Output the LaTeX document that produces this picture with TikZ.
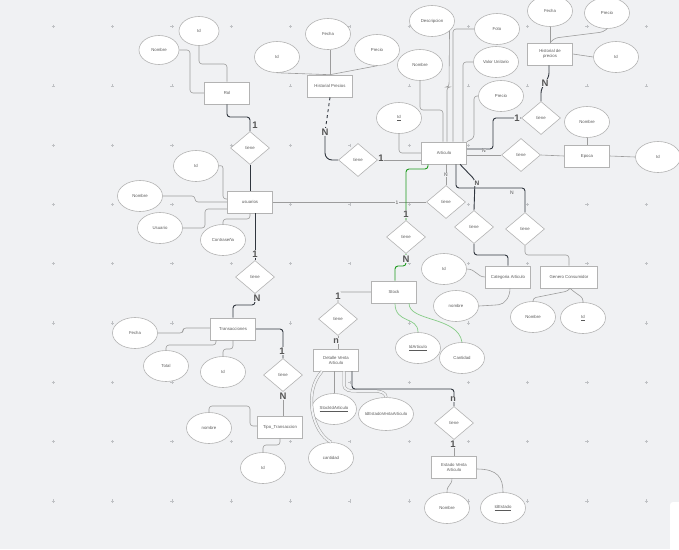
\documentclass[tikz,border=0pt]{standalone}
\usepackage{fontspec}
\setmainfont{Liberation Sans}
\usetikzlibrary{shapes.geometric}
\definecolor{bgc}{HTML}{F0F1F3}
\definecolor{edgec}{HTML}{B3B3B3}
\definecolor{linec}{HTML}{9C9C9C}
\definecolor{darkc}{HTML}{30363E}
\definecolor{txtc}{HTML}{5A5A5A}
\definecolor{cardc}{HTML}{555555}
\definecolor{gridc}{HTML}{BFC1C4}
\definecolor{grnd}{HTML}{1E9B1E}
\definecolor{grnl}{HTML}{86CC86}

\tikzset{
  lbl/.style={font=\fontsize{4.3}{5}\selectfont, text=txtc},
  ent/.style={lbl, draw=edgec, fill=white, line width=0.6pt, minimum width=45pt, minimum height=22pt, inner sep=0pt, align=center},
  attr/.style={lbl, ellipse, draw=edgec, fill=white, line width=0.6pt, minimum width=45pt, minimum height=31pt, inner sep=0pt, align=center},
  rel/.style={lbl, diamond, draw=edgec, fill=white, line width=0.6pt, minimum width=39pt, minimum height=33pt, inner sep=0pt},
  ln/.style={draw=linec, line width=0.6pt, rounded corners=3pt},
  lndbl/.style={draw=linec, line width=0.5pt, double=bgc, double distance=2pt},
  dk/.style={draw=darkc, line width=0.9pt, rounded corners=3pt},
  gd/.style={draw=grnd, line width=0.9pt, rounded corners=3pt},
  gl/.style={draw=grnl, line width=0.7pt},
  card/.style={font=\bfseries\fontsize{9.5}{10}\selectfont, text=cardc, fill=bgc, inner sep=0.6pt},
  smallcard/.style={font=\fontsize{5}{5}\selectfont, text=cardc, fill=bgc, inner sep=0.4pt},
  gridmark/.style={draw=gridc, line width=0.45pt},
}

\begin{document}
\begin{tikzpicture}[x=1pt,y=-1pt]
% canvas
\fill[bgc] (0,0) rectangle (679,549);
\useasboundingbox (0,0) rectangle (679,549);
\fill[white, rounded corners=3pt] (670,502) rectangle (690,560);

% dotted grid
\foreach \i in {0,...,10}{
  \foreach \j in {0,...,8}{
    \draw[gridmark] ({53.3+59.3*\i-1.6},{26.5+59.3*\j}) -- ++(3.2,0);
    \draw[gridmark] ({53.3+59.3*\i},{26.5+59.3*\j-1.6}) -- ++(0,3.2);
  }
}

% ---------- entities ----------
\node[ent] (rol) at (227,93) {Rol};
\node[ent] (hp) at (330,86) {Historial Precios};
\node[ent] (art) at (444,153) {Articulo};
\node[ent] (hdp) at (550,54) {Historial de\\precios};
\node[ent] (epo) at (587,156) {Epoca};
\node[ent] (usu) at (250,202) {usuarios};
\node[ent] (tra) at (233,329) {Transacciones};
\node[ent] (tipo) at (280,427) {Tipo\_Transaccion};
\node[ent] (sto) at (394,292) {Stock};
\node[ent] (det) at (336,360) {Detalle Venta\\Articulo};
\node[ent] (cat) at (508,277) {Categoria Articulo};
\node[ent, minimum width=57pt] (gen) at (569,277) {Genero Consumidor};
\node[ent] (est) at (454,467) {Estado Venta\\Articulo};

% ---------- relationships ----------
\node[rel] (r1) at (250,148) {tiene};
\node[rel] (r2) at (358,160) {tiene};
\node[rel] (r3) at (541,118) {tiene};
\node[rel] (r4) at (521,155) {tiene};
\node[rel] (r5) at (446,202) {tiene};
\node[rel] (r6) at (406,237) {tiene};
\node[rel] (r7) at (474,227) {tiene};
\node[rel] (r8) at (525,229) {tiene};
\node[rel] (r9) at (255,277) {tiene};
\node[rel] (r10) at (338,319) {tiene};
\node[rel] (r11) at (283,375) {tiene};
\node[rel] (r12) at (454,423) {tiene};

% ---------- attributes ----------
\node[attr, minimum width=40pt, minimum height=29pt] (rolnom) at (159,50) {Nombre};
\node[attr, minimum width=40pt, minimum height=29pt] (rolid) at (199,31) {Id};
\node[attr] (hpid) at (277,57) {Id};
\node[attr] (hpfec) at (328,34) {Fecha};
\node[attr] (hppre) at (377,50) {Precio};
\node[attr] (artdes) at (432,21) {Descripcion};
\node[attr] (artnom) at (420,65) {Nombre};
\node[attr] (artfoto) at (497,29) {Foto};
\node[attr] (artval) at (496,62) {Valor Unitario};
\node[attr] (artpre) at (501,96) {Precio};
\node[attr] (artid) at (399,118) {\underline{Id}};
\node[attr] (hdpfec) at (550,11) {Fecha};
\node[attr] (hdppre) at (607,13) {Precio};
\node[attr] (hdpid) at (616,57) {Id};
\node[attr] (eponom) at (587,122) {Nombre};
\node[attr] (epoid) at (658,157) {Id};
\node[attr] (usuid) at (196,166) {Id};
\node[attr] (usunom) at (140,196) {Nombre};
\node[attr] (usuusr) at (160,228) {Usuario};
\node[attr] (usupas) at (223,240) {Contraseña};
\node[attr] (catid) at (444,269) {Id};
\node[attr] (catnom) at (456,306) {nombre};
\node[attr] (gennom) at (533,317) {Nombre};
\node[attr] (genid) at (583,318) {\underline{Id}};
\node[attr] (stoart) at (418,348) {\underline{IdArticulo}};
\node[attr] (stocan) at (462,358) {Cantidad};
\node[attr] (trafec) at (135,333) {Fecha};
\node[attr] (tratot) at (166,366) {Total};
\node[attr] (traid) at (223,372) {Id};
\node[attr] (tiponom) at (209,428) {nombre};
\node[attr] (tipoid) at (263,468) {Id};
\node[attr] (detsto) at (334,409) {\makebox[0pt]{\underline{StockIdArticulo}}};
\node[attr, minimum width=55pt, minimum height=33pt] (detest) at (386,414) {\makebox[0pt]{IdEstadoVentaArticulo}};
\node[attr] (detcan) at (331,458) {cantidad};
\node[attr] (estnom) at (447,508) {Nombre};
\node[attr] (estid) at (503,508) {\underline{IdEstado}};

% ---------- Rol ----------
\draw[ln] (rolnom.east) -- (190,50) |- (rol.west);
\draw[ln] (rolid.south) |- (227,64) -- (rol.north);
\draw[dk] (rol.south) |- (250,117) -- (r1.north);
\draw[dk] (r1.south) -- (usu.north);
\node[card] at (255,125) {1};

% ---------- usuarios ----------
\draw[ln] (usuid.east) -- (223,165) |- ([yshift=3pt]usu.west);
\draw[ln] (usunom.east) -- (195,196) |- (usu.west);
\draw[ln] (usuusr.east) -- (205,228) |- ([yshift=-7pt]usu.west);
\draw[ln] (usupas.north) |- (250,219) -- (usu.south);
\draw[dk] ([xshift=5pt]usu.south) -- (r9.north);
\node[card] at (255,254) {1};
\draw[ln] (usu.east) -- (r5.west);
\node[smallcard] at (397,203) {1};

% ---------- Transacciones ----------
\draw[dk] (r9.south) |- (233,305) -- (tra.north);
\node[card] at (257,298) {N};
\draw[ln] (trafec.east) -- (183,333) |- ([yshift=1pt]tra.west);
\draw[ln] (tratot.north) |- (216,345) -- ([xshift=-17pt]tra.south);
\draw[ln] (traid.north) -- (223,349) -| (tra.south);
\draw[dk] (tra.east) -| (r11.north);
\node[card] at (282,351) {1};
\draw[ln] (r11.south) -- (r11.south |- tipo.north);
\node[card] at (283,396) {N};
\draw[ln] (tiponom.north) |- (250,406) |- ([yshift=1pt]tipo.west);
\draw[ln] (tipoid.north) -- (263,445) -| (tipo.south);

% ---------- Historial Precios ----------
\coordinate (nhp) at (325,132);
\draw[ln] (hpfec.south -| hp.north) -- (hp.north);
\draw[ln] (hpid.south) -- (hp.north);
\draw[ln] (hppre.south) -- (hp.north);
\draw[dk, dashed, rounded corners=0pt] (hp.south) -- (nhp);
\draw[dk, rounded corners=7pt] (nhp) |- (r2.west);
\node[card] at (nhp) {N};
\draw[ln] (r2.east) -- (r2.east -| art.west);
\node[card] at (381,158) {1};

% ---------- Articulo ----------
\draw[ln] (artid.south) |- (art.west);
\draw[ln] (artnom.south) |- (443,110) -- ([xshift=-1pt]art.north);
\draw[ln] (artdes.-30) -- (449,87) -| ([xshift=3pt]art.north);
\draw[ln] (artfoto.west) -| ([xshift=9pt]art.north);
\draw[ln] (artval.west) -| ([xshift=19pt]art.north);
\draw[ln] (artpre.west) -- (474,96) -- (474,138) -- (art.north east);
\draw[dk] ([yshift=4pt]art.east) -- (493,149) |- (r3.west);
\node[card] at (517,118) {1};
\draw[dk] (r3.north) -- (541,90) -- (549,76) -- ([xshift=-1pt]hdp.south);
\node[card] at (545,83) {N};
\draw[ln] ([yshift=-2pt]art.east) -- (r4.west);
\node[smallcard] at (484,151) {N};
\draw[ln] (r4.east) -- (epo.west);
\draw[ln] (eponom.south) -- (epo.north);
\draw[ln] (epo.east) -- (epoid.west);

% ---------- Historial de precios ----------
\draw[ln] (hdpfec.south) -- (hdp.north);
\draw[ln] (hdppre.south) -- (603,32) -- (555,38) -- (hdp.north);
\draw[ln] (hdpid.west) -- (hdp.east);

% ---------- Articulo downwards ----------
\draw[gd] ([xshift=-16pt]art.south) -- (428,169) -| (r6.north);
\node[card] at (406,214) {1};
\draw[ln] ([xshift=2pt]art.south) -- (r5.north);
\node[smallcard] at (446,175) {N};
\draw[dk] ([xshift=12pt]art.south) |- (525,188) -- (r8.north);
\node[smallcard, fill=none] at (512,193) {N};
\draw[dk] ([xshift=16pt]art.south) -- (475,180) -- (r7.north);
\node[font=\bfseries\fontsize{6.5}{7}\selectfont, text=cardc, fill=bgc, inner sep=0.4pt] at (477,183) {N};
\draw[dk] (r7.south) |- (508,255) -- (cat.north);
\draw[ln] (r8.south) |- (569,255) -- (gen.north);

% ---------- Categoria / Genero ----------
\draw[ln] (catid.east) .. controls (476,269) and (477,277) .. (cat.west);
\draw[ln] (catnom.east) -- (496,305) .. controls (505,304) and (510,297) .. ([xshift=2pt]cat.south);
\draw[ln] (gennom.north) -- (533,298) -- (568,291) -- ([xshift=1pt]gen.south);
\draw[ln] (genid.north) -- (583,298) -- (573,291) -- ([xshift=1pt]gen.south);

% ---------- Stock ----------
\draw[gd] (r6.south) -- (406,266) -| ([xshift=1pt]sto.north);
\node[card] at (406,259) {N};
\draw[gl] ([xshift=1pt]sto.south) .. controls (395,324) and (418,316) .. (stoart.north);
\draw[gl] ([xshift=15pt]sto.south) .. controls (409,322) and (458,316) .. (stocan.north);
\draw[ln] (sto.west) -| (r10.north);
\node[card] at (338,296) {1};

% ---------- Detalle Venta Articulo ----------
\draw[ln] (r10.south) -- (r10.south |- det.north);
\node[card, font=\bfseries\fontsize{9}{10}\selectfont] at (336,341) {n};
\draw[ln] (detsto.north) -- (detsto.north |- det.south);
\draw[lndbl] ([xshift=8pt]det.south) -- (344,384) .. controls (344,391) and (350,391) .. (357,391) -- (374,391) .. controls (381,391) and (386,393) .. (detest.north);
\draw[lndbl] ([xshift=-14pt]det.south) .. controls (303,392) and (312,432) .. (detcan.north);
\draw[dk] ([xshift=16pt]det.south) |- (454,389) -- (r12.north);
\node[card, font=\bfseries\fontsize{9}{10}\selectfont] at (453,399) {n};
\draw[ln] (r12.south) -- (est.north);
\node[card] at (453,444) {1};

% ---------- Estado Venta Articulo ----------
\draw[ln] ([xshift=-2pt]est.south) .. controls (452,486) and (447,484) .. (estnom.north);
\draw[ln] ([yshift=-2pt]est.east) .. controls (498,469) and (503,478) .. (estid.north);
\end{tikzpicture}
\end{document}
